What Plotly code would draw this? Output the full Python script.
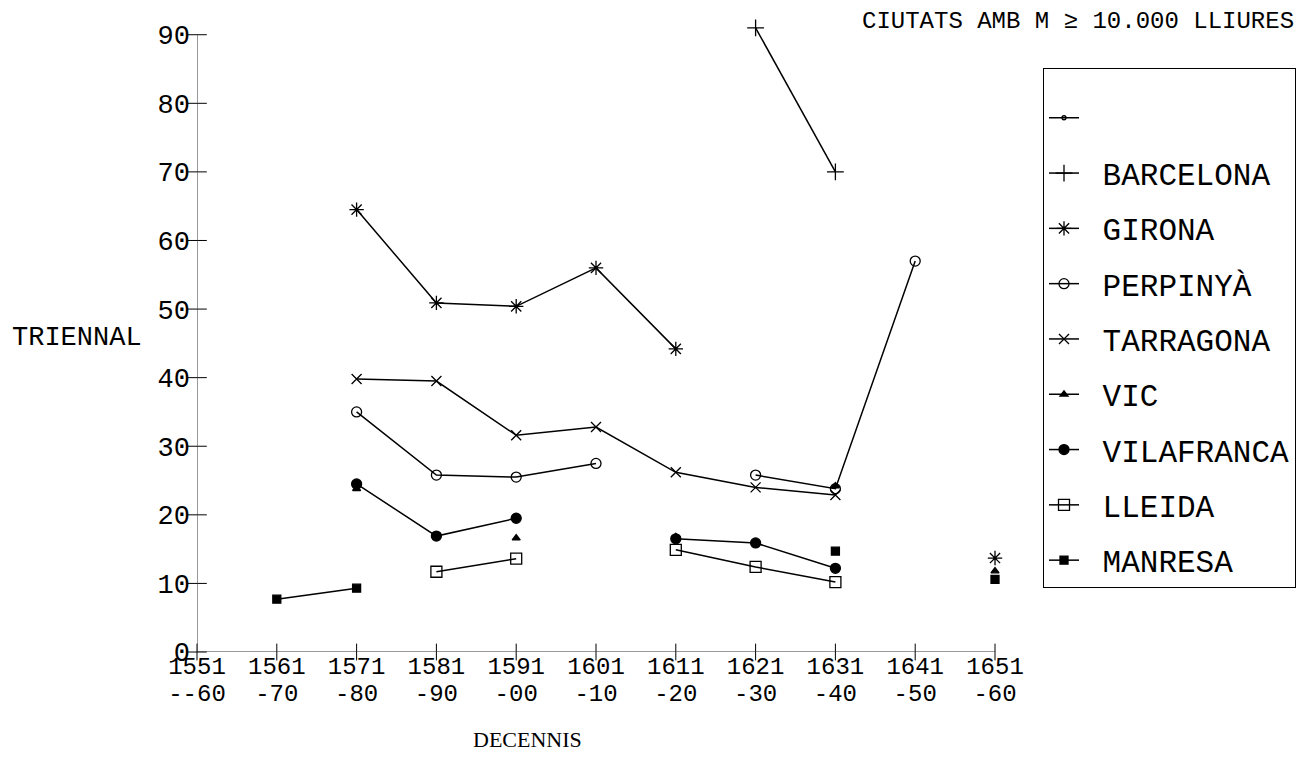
import plotly.graph_objects as go

# ---- data ----
decade_start = ["1551", "1561", "1571", "1581", "1591", "1601", "1611", "1621", "1631", "1641", "1651"]
decade_end = ["--60", "-70", "-80", "-90", "-00", "-10", "-20", "-30", "-40", "-50", "-60"]
y_ticks = [0, 10, 20, 30, 40, 50, 60, 70, 80, 90]

blank = [None] * 11
barcelona = [None, None, None, None, None, None, None, 91.0, 70.0, None, None]
girona = [None, None, 64.5, 50.9, 50.4, 56.0, 44.2, None, None, None, 13.7]
perpinya = [None, None, 35.0, 25.8, 25.5, 27.5, None, 25.8, 23.8, 57.0, None]
tarragona = [None, None, 39.8, 39.5, 31.6, 32.8, 26.2, 24.0, 22.9, None, None]
vic = [None, None, 23.8, None, 16.6, None, 16.8, None, 24.2, None, 11.8]
vilafranca = [None, None, 24.5, 16.9, 19.5, None, 16.5, 15.9, 12.2, None, None]
lleida = [None, None, None, 11.7, 13.6, None, 14.9, 12.4, 10.2, None, None]
manresa = [None, 7.7, 9.3, None, None, None, None, None, 14.7, None, 10.6]

series = [
    (" ", blank, "circle-open", 4),
    ("BARCELONA", barcelona, "cross-thin-open", 12),
    ("GIRONA", girona, "asterisk-open", 12),
    ("PERPINYÀ", perpinya, "circle-open", 10),
    ("TARRAGONA", tarragona, "x-thin-open", 10),
    ("VIC", vic, "triangle-up", 7),
    ("VILAFRANCA", vilafranca, "circle", 10),
    ("LLEIDA", lleida, "square-open", 11),
    ("MANRESA", manresa, "square", 8),
]

FONT = "Liberation Mono"
xs = list(range(len(decade_start)))

fig = go.Figure()
for name, vals, sym, size in series:
    fig.add_trace(go.Scatter(
        x=xs, y=vals, name="\u00a0" + name, mode="lines+markers",
        line=dict(color="black", width=1.5),
        marker=dict(symbol=sym, size=size, color="black",
                    line=dict(color="black", width=1.3)),
        connectgaps=False, cliponaxis=False, legendgroup=name,
    ))

# cross tick marks on the axes
fig.add_trace(go.Scatter(
    x=[0] * len(y_ticks), y=y_ticks, mode="markers", showlegend=False,
    hoverinfo="skip", cliponaxis=False,
    marker=dict(symbol="line-ew", size=14, line=dict(color="black", width=1)),
))
fig.add_trace(go.Scatter(
    x=xs, y=[0] * len(xs), mode="markers", showlegend=False,
    hoverinfo="skip", cliponaxis=False,
    marker=dict(symbol="line-ns", size=12, line=dict(color="black", width=1)),
))
# invisible trace to carry the second tick-label row
fig.add_trace(go.Scatter(x=xs, y=[None] * len(xs), xaxis="x2", showlegend=False,
                         hoverinfo="skip", mode="markers"))

# axis lines
fig.add_shape(type="line", xref="x", yref="y", x0=0, x1=0, y0=0, y1=max(y_ticks),
              line=dict(color="#333", width=1))
fig.add_shape(type="line", xref="x", yref="y", x0=0, x1=xs[-1], y0=0, y1=0,
              line=dict(color="#333", width=1))

OFF = 8  # page body margin
W, H = 1291, 751
ML, MT, MB = 197 - OFF, 21 - OFF, 60
MR = W - (995 - OFF)
PW, PH = W - ML - MR, H - MT - MB


def px_x(p):
    return (p - OFF - ML) / PW


def px_y(p):
    return (H - MB - (p - OFF)) / PH


ybottom = px_y(652)

fig.update_layout(
    width=W, height=H,
    margin=dict(l=ML, r=MR, t=MT, b=MB, autoexpand=False),
    paper_bgcolor="white", plot_bgcolor="white",
    font=dict(family=FONT, color="black", size=24),
    showlegend=True,
    xaxis=dict(range=[0, 10], tickvals=xs, ticktext=decade_start, showgrid=False,
               zeroline=False, showline=False, ticks="", anchor="free",
               position=px_y(649), side="bottom", tickfont=dict(size=24)),
    xaxis2=dict(range=[0, 10], tickvals=xs, ticktext=decade_end, showgrid=False,
                zeroline=False, showline=False, ticks="", overlaying="x",
                anchor="free", position=px_y(676), side="bottom",
                tickfont=dict(size=24)),
    yaxis=dict(range=[0, 92], domain=[ybottom, 1], tickvals=y_ticks,
               showgrid=False, zeroline=False, showline=False, ticks="",
               tickfont=dict(size=27), ticklabelstandoff=6),
    legend=dict(x=px_x(1043), y=px_y(68), xanchor="left", yanchor="top",
                bordercolor="black", borderwidth=1, bgcolor="white",
                font=dict(size=31, family=FONT), tracegroupgap=12,
                itemwidth=30,
                title=dict(text=" ", font=dict(size=17))),
    annotations=[
        dict(text="CIUTATS AMB M ≥ 10.000 LLIURES", xref="paper", yref="paper",
             x=px_x(1296), y=px_y(22), xanchor="right", yanchor="middle",
             showarrow=False, font=dict(size=24, family=FONT)),
        dict(text="TRIENNAL", xref="paper", yref="paper",
             x=px_x(10), y=px_y(338), xanchor="left", yanchor="middle",
             showarrow=False, font=dict(size=27, family=FONT)),
        dict(text="DECENNIS", xref="paper", yref="paper",
             x=px_x(527), y=px_y(740), xanchor="center", yanchor="middle",
             showarrow=False, font=dict(size=22, family="Liberation Serif")),
    ],
)

fig.write_html("out.html")
